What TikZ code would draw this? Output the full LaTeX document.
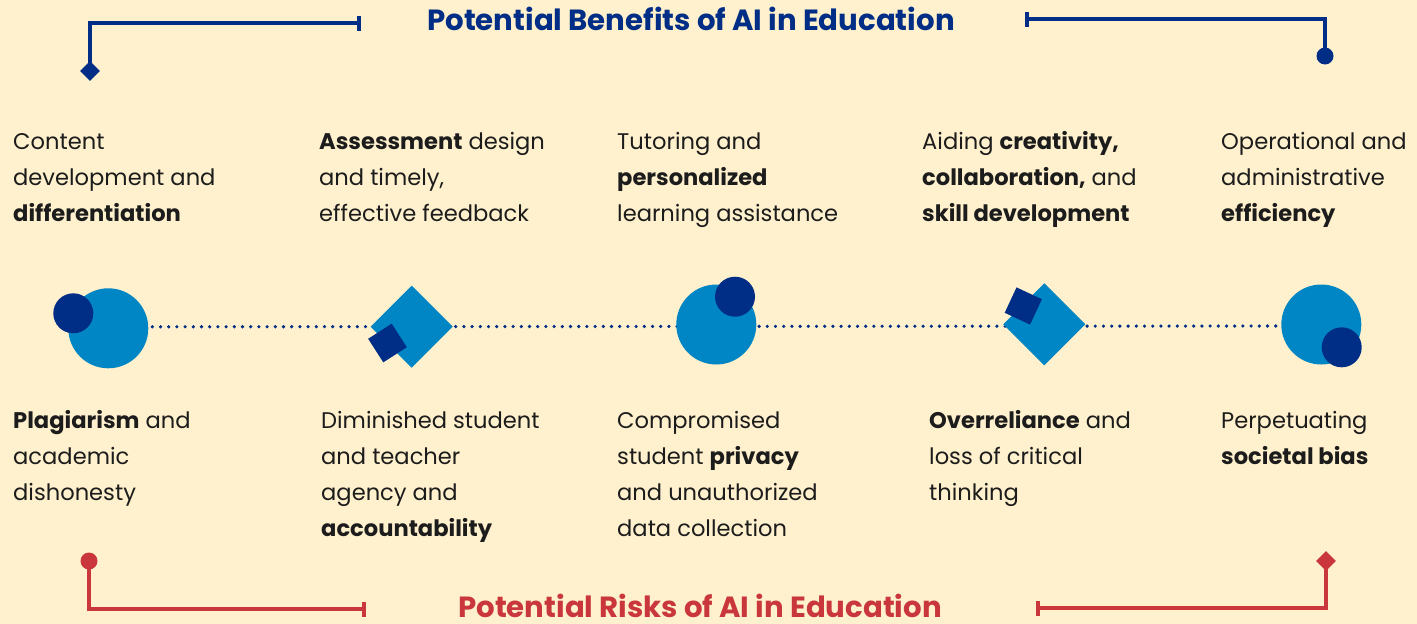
\documentclass[tikz,border=0pt]{standalone}
\usepackage{fontspec}
\setmainfont{Poppins}
\usetikzlibrary{arrows.meta,shapes.geometric,backgrounds}
\definecolor{bgc}{HTML}{FFF1CD}
\definecolor{lblue}{HTML}{0086C4}
\definecolor{dblue}{HTML}{002D86}
\definecolor{rred}{HTML}{C9373C}
\definecolor{txt}{HTML}{1C1C1C}
\newcommand{\blk}[1]{\begin{tabular}[t]{@{}l@{}}#1\end{tabular}}
\tikzset{
  body/.style={anchor=base west, inner sep=0pt, text=txt, font=\fontsize{22.6}{36}\selectfont},
  ttl/.style={inner sep=0pt, anchor=base, font=\fontsize{29.2}{32}\selectfont\bfseries},
  bigc/.style={circle, fill=lblue, minimum size=80pt, inner sep=0pt},
  smallc/.style={circle, fill=dblue, minimum size=40pt, inner sep=0pt},
  bigd/.style={rectangle, fill=lblue, minimum size=58pt, inner sep=0pt, rotate=45},
  smalls/.style={rectangle, fill=dblue, minimum size=28pt, inner sep=0pt},
  dotline/.style={dblue, line width=3.6pt, line cap=round, dash pattern=on 0pt off 8.2pt},
  brk/.style={line width=3.6pt},
  endc/.style={circle, minimum size=17pt, inner sep=0pt},
  endd/.style={diamond, minimum size=20pt, inner sep=0pt},
}
\begin{document}
\begin{tikzpicture}[x=1pt,y=-1pt]
\begin{pgfonlayer}{background}
\fill[bgc] (0,0) rectangle (1417,624);
\end{pgfonlayer}
\useasboundingbox (0,0) rectangle (1417,624);

% titles
\node[ttl, text=dblue] (tb) at (691,30) {Potential Benefits of AI in Education};
\node[ttl, text=rred] (tr) at (700,617.5) {Potential Risks of AI in Education};

% brackets
\node[endd, fill=dblue] (e1) at (90,71) {};
\coordinate (e1b) at (361,23);
\draw[brk, dblue, -{Bar[width=15pt,line width=3.6pt]}] (e1.center) |- (e1b);
\node[endc, fill=dblue] (e2) at (1325,56) {};
\coordinate (e2b) at (1025,19);
\draw[brk, dblue, -{Bar[width=15pt,line width=3.6pt]}] (e2.center) |- (e2b);
\node[endc, fill=rred] (e3) at (89,561) {};
\coordinate (e3b) at (366,609);
\draw[brk, rred, -{Bar[width=15pt,line width=3.6pt]}] (e3.center) |- (e3b);
\node[endd, fill=rred] (e4) at (1326,561) {};
\coordinate (e4b) at (1036,608);
\draw[brk, rred, -{Bar[width=15pt,line width=3.6pt]}] (e4.center) |- (e4b);

% shapes
\node[bigc] (s1) at (108.3,328.3) {};
\node[smallc] (d1) at (73.3,313.3) {};
\node[bigd] (s2) at (411.7,326.7) {};
\node[smalls, rotate=32.7] (d2) at (387.5,343) {};
\node[bigc] (s3) at (716.3,324.5) {};
\node[smallc] (d3) at (735,296.7) {};
\node[bigd] (s4) at (1044.3,324.3) {};
\node[smalls, rotate=-25] (d4) at (1023.3,306) {};
\node[bigc] (s5) at (1321.3,324.5) {};
\node[smallc] (d5) at (1341.7,347.3) {};
\begin{pgfonlayer}{background}
\path (s1.center) ++(44,-1.5) coordinate (la) (s5.center) ++(-44,1.5) coordinate (lb);
\draw[dotline] (la) -- (lb);
\end{pgfonlayer}

% benefit texts
\node[body] (b1) at (13,149) {\blk{Content\\ development and\\ \textbf{differentiation}}};
\node[body] (b2) at (319,149) {\blk{\textbf{Assessment} design\\ and timely,\\ effective feedback}};
\node[body] (b3) at (617,149) {\blk{Tutoring and\\ \textbf{personalized}\\ learning assistance}};
\node[body] (b4) at (922,149) {\blk{Aiding \textbf{creativity,}\\ \textbf{collaboration,} and\\ \textbf{skill development}}};
\node[body] (b5) at (1221,149) {\blk{Operational and\\ administrative\\ \textbf{efficiency}}};

% risk texts
\node[body] (r1) at (13,428) {\blk{\textbf{Plagiarism} and\\ academic\\ dishonesty}};
\node[body] (r2) at (321,428) {\blk{Diminished student\\ and teacher\\ agency and\\ \textbf{accountability}}};
\node[body] (r3) at (617,428) {\blk{Compromised\\ student \textbf{privacy}\\ and unauthorized\\ data collection}};
\node[body] (r4) at (929,428) {\blk{\textbf{Overreliance} and\\ loss of critical\\ thinking}};
\node[body] (r5) at (1221,428) {\blk{Perpetuating\\ \textbf{societal bias}}};
\end{tikzpicture}
\end{document}
